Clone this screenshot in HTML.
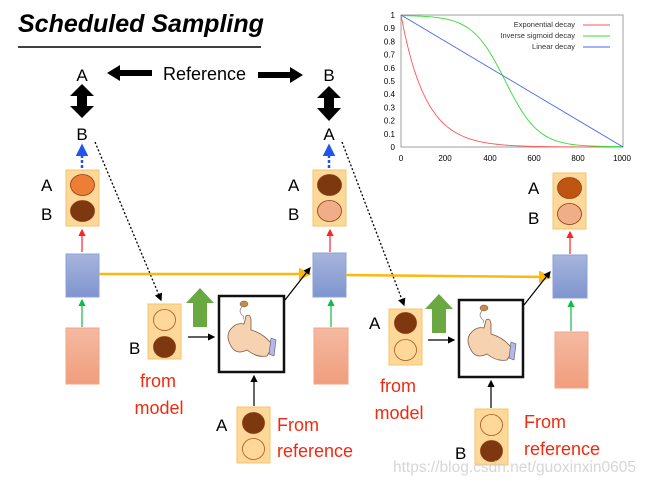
<!DOCTYPE html>
<html><head><meta charset="utf-8"><style>
body{margin:0;background:#fff;width:651px;height:481px;overflow:hidden}
svg{display:block}
text{font-family:"Liberation Sans",sans-serif}
</style></head><body>
<svg id="s" width="651" height="481" viewBox="0 0 651 481" xmlns="http://www.w3.org/2000/svg">
<defs>
<linearGradient id="bl" x1="0" y1="0" x2="0" y2="1"><stop offset="0" stop-color="#a7b5dc"/><stop offset="1" stop-color="#7f95cf"/></linearGradient>
<linearGradient id="pk" x1="0" y1="0" x2="0" y2="1"><stop offset="0" stop-color="#f4baa2"/><stop offset="1" stop-color="#f19d7c"/></linearGradient>
<marker id="ab" markerWidth="6" markerHeight="6" refX="5" refY="3" orient="auto"><path d="M0,0 L6,3 L0,6z" fill="#000"/></marker>
<marker id="ar" markerWidth="6" markerHeight="6" refX="5" refY="3" orient="auto"><path d="M0,0 L6,3 L0,6z" fill="#f22"/></marker>
<marker id="ag" markerWidth="6" markerHeight="6" refX="5" refY="3" orient="auto"><path d="M0,0 L6,3 L0,6z" fill="#1b4"/></marker>
<marker id="abl" markerWidth="5" markerHeight="5" refX="4" refY="2.5" orient="auto"><path d="M0,0 L5,2.5 L0,5z" fill="#2255ee"/></marker>
<marker id="ay" markerWidth="5" markerHeight="5" refX="4" refY="2.5" orient="auto"><path d="M0,0 L5,2.5 L0,5z" fill="#fbb80d"/></marker>
</defs>
<text x="18" y="32" font-size="25" font-weight="bold" font-style="italic">Scheduled Sampling</text>
<line x1="18" y1="47" x2="261" y2="47" stroke="#000" stroke-width="1.5"/>

<rect x="401" y="15" width="222" height="132" fill="#fff" stroke="#888" stroke-width="0.8"/>
<g font-size="8" fill="#000" text-anchor="end" id="yt"></g>
<g font-size="8" fill="#000" text-anchor="middle">
<text x="401" y="161">0</text><text x="445" y="161">200</text><text x="490" y="161">400</text><text x="534" y="161">600</text><text x="578" y="161">800</text><text x="622" y="161">1000</text></g>
<g font-size="7.5" text-anchor="end" fill="#333">
<text x="575" y="27">Exponential decay</text><text x="575" y="38">Inverse sigmoid decay</text><text x="575" y="49">Linear decay</text></g>
<line x1="583" y1="25" x2="610" y2="25" stroke="#f55"/><line x1="583" y1="36" x2="610" y2="36" stroke="#3d3"/><line x1="583" y1="47" x2="610" y2="47" stroke="#46e"/>
<path id="pe" fill="none" stroke="#f55" stroke-width="0.9"/>
<path id="ps" fill="none" stroke="#3d3" stroke-width="0.9"/>
<line x1="401" y1="15" x2="623" y2="147" stroke="#46e" stroke-width="0.9"/>

<text x="82" y="81" font-size="17" text-anchor="middle">A</text>
<text x="82" y="140" font-size="17" text-anchor="middle">B</text>
<text x="329" y="81" font-size="17" text-anchor="middle">B</text>
<text x="329" y="140" font-size="17" text-anchor="middle">A</text>
<path d="M82,84 L94,96 L87,96 L87,106 L94,106 L82,118 L70,106 L77,106 L77,96 L70,96z"/>
<path d="M329,86 L341,98 L334,98 L334,108 L341,108 L329,121 L317,108 L324,108 L324,98 L317,98z"/>
<path d="M107,73 L120,65 L120,70 L152,70 L152,76 L120,76 L120,81z"/>
<path d="M303,75 L290,67 L290,72 L258,72 L258,78 L290,78 L290,83z"/>
<text x="163" y="80" font-size="18">Reference</text>

<line x1="82" y1="168" x2="82" y2="146" stroke="#2255ee" stroke-width="2.5" stroke-dasharray="3,2" marker-end="url(#abl)"/>
<line x1="329" y1="168" x2="329" y2="146" stroke="#2255ee" stroke-width="2.5" stroke-dasharray="3,2" marker-end="url(#abl)"/>
<line x1="95" y1="142" x2="161" y2="300" stroke="#000" stroke-width="1.3" stroke-dasharray="2,2" marker-end="url(#ab)"/>
<line x1="342" y1="142" x2="404" y2="305" stroke="#000" stroke-width="1.3" stroke-dasharray="2,2" marker-end="url(#ab)"/>

<g stroke="#f5c46a" stroke-width="1" fill="#fdd899">
<rect x="66" y="170" width="33" height="56"/><rect x="313" y="170" width="33" height="56"/><rect x="553" y="173" width="33" height="56"/>
<rect x="148" y="304" width="33" height="55"/><rect x="237" y="407" width="33" height="56"/>
<rect x="389" y="309" width="33" height="56"/><rect x="475" y="409" width="33" height="56"/></g>
<g stroke="#8a3a10" stroke-width="0.8">
<ellipse cx="82.5" cy="185" rx="12" ry="10.5" fill="#ec7f35"/><ellipse cx="82.5" cy="211" rx="12" ry="10.5" fill="#7e3810"/>
<ellipse cx="329.5" cy="185" rx="12" ry="10.5" fill="#7e3810"/><ellipse cx="329.5" cy="211" rx="12" ry="10.5" fill="#f0ae88"/>
<ellipse cx="569.5" cy="188" rx="12" ry="10.5" fill="#c05512"/><ellipse cx="569.5" cy="214" rx="12" ry="10.5" fill="#f0ae88"/>
<ellipse cx="164.5" cy="320" rx="11" ry="10.5" fill="none" stroke="#b05020"/><ellipse cx="164.5" cy="347" rx="11" ry="10.5" fill="#7e3810"/>
<ellipse cx="253.5" cy="423" rx="11" ry="10.5" fill="#7e3810"/><ellipse cx="253.5" cy="449" rx="11" ry="10.5" fill="none" stroke="#b05020"/>
<ellipse cx="405.5" cy="323" rx="11" ry="10.5" fill="#7e3810"/><ellipse cx="405.5" cy="350" rx="11" ry="10.5" fill="none" stroke="#b05020"/>
<ellipse cx="491.5" cy="425" rx="11" ry="10.5" fill="none" stroke="#b05020"/><ellipse cx="491.5" cy="451" rx="11" ry="10.5" fill="#7e3810"/></g>
<g font-size="17">
<text x="41" y="191">A</text><text x="41" y="220">B</text>
<text x="288" y="191">A</text><text x="288" y="220">B</text>
<text x="528" y="194">A</text><text x="528" y="224">B</text>
<text x="129" y="354">B</text><text x="216" y="431">A</text>
<text x="369" y="329">A</text><text x="455" y="459">B</text></g>

<g fill="url(#bl)" stroke="#8aa0d8"><rect x="66" y="254" width="33" height="43"/><rect x="313" y="253" width="33" height="44"/><rect x="553" y="255" width="34" height="43"/></g>
<g fill="url(#pk)" stroke="#f3a585"><rect x="66" y="328" width="33" height="56"/><rect x="314" y="328" width="34" height="56"/><rect x="555" y="332" width="33" height="56"/></g>
<line x1="82" y1="252" x2="82" y2="230" stroke="#f22" stroke-width="1.2" marker-end="url(#ar)"/>
<line x1="330" y1="252" x2="330" y2="230" stroke="#f22" stroke-width="1.2" marker-end="url(#ar)"/>
<line x1="570" y1="254" x2="570" y2="232" stroke="#f22" stroke-width="1.2" marker-end="url(#ar)"/>
<line x1="82" y1="327" x2="82" y2="300" stroke="#1b4" stroke-width="1.2" marker-end="url(#ag)"/>
<line x1="331" y1="327" x2="331" y2="300" stroke="#1b4" stroke-width="1.2" marker-end="url(#ag)"/>
<line x1="571" y1="331" x2="571" y2="301" stroke="#1b4" stroke-width="1.2" marker-end="url(#ag)"/>
<line x1="99" y1="274" x2="309" y2="274" stroke="#fbb80d" stroke-width="2.5" marker-end="url(#ay)"/>
<line x1="346" y1="275" x2="549" y2="277" stroke="#fbb80d" stroke-width="2.5" marker-end="url(#ay)"/>

<path d="M200,288 L214,303 L207,303 L207,327 L193,327 L193,303 L186,303z" fill="#6aa842"/>
<path d="M439,294 L453,309 L446,309 L446,333 L432,333 L432,309 L425,309z" fill="#6aa842"/>
<g fill="#fff" stroke="#111" stroke-width="2.5"><rect x="219" y="296" width="65" height="76"/><rect x="459" y="300" width="64" height="77"/></g>
<g id="hand">
<path d="M230,330 q6,-8 14,-6 l2,-8 q4,-3 5,4 l0,10 q14,4 22,16 l-6,10 q-10,2 -20,-6 q-12,6 -17,-6 q-4,-8 0,-14z" fill="#f7d2b0" stroke="#7a5a45" stroke-width="0.8"/>
<path d="M271,338 l5,2 l-2,16 l-5,-2z" fill="#b7b7e8" stroke="#556" stroke-width="0.6"/>
<ellipse cx="244" cy="304" rx="4" ry="3" fill="#c98a4b" stroke="#654" stroke-width="0.5"/>
<path d="M242,307 q-4,4 0,8 q3,2 1,4" fill="none" stroke="#777" stroke-width="0.6"/>
</g>
<use href="#hand" x="240" y="4"/>
<line x1="188" y1="337" x2="214" y2="337" stroke="#000" stroke-width="1.2" marker-end="url(#ab)"/>
<line x1="428" y1="340" x2="454" y2="340" stroke="#000" stroke-width="1.2" marker-end="url(#ab)"/>
<line x1="285" y1="300" x2="310" y2="268" stroke="#000" stroke-width="1.2" marker-end="url(#ab)"/>
<line x1="524" y1="305" x2="550" y2="272" stroke="#000" stroke-width="1.2" marker-end="url(#ab)"/>
<line x1="254" y1="406" x2="254" y2="376" stroke="#000" stroke-width="1.2" marker-end="url(#ab)"/>
<line x1="491" y1="408" x2="491" y2="381" stroke="#000" stroke-width="1.2" marker-end="url(#ab)"/>

<g font-size="18" fill="#f02a10" text-anchor="middle">
<text x="158" y="387">from</text><text x="159" y="414">model</text>
<text x="398" y="392">from</text><text x="399" y="419">model</text></g>
<g font-size="18" fill="#f02a10">
<text x="277" y="431">From</text><text x="277" y="457">reference</text>
<text x="524" y="428">From</text><text x="524" y="455">reference</text></g>
<text x="393" y="472" font-size="15.5" fill="#ccc" opacity="0.8">https://blog.csdn.net/guoxinxin0605</text>
</svg>
<script>
var X=v=>401+v*0.222,Y=v=>147-v*132;
var e="",s="";
for(var i=0;i<=1000;i+=10){var a=Math.exp(-i*0.009),b=1/(1+Math.exp((i-470)/75));e+=(i?"L":"M")+X(i)+","+Y(a);s+=(i?"L":"M")+X(i)+","+Y(b*0.995+0.002);}
document.getElementById("pe").setAttribute("d",e);document.getElementById("ps").setAttribute("d",s);
var g=document.getElementById("yt");
for(var k=0;k<=10;k++){var t=document.createElementNS("http://www.w3.org/2000/svg","text");t.setAttribute("x",395);t.setAttribute("y",Y(k/10)+3);t.textContent=k==10?"1":k==0?"0":"0."+k;g.appendChild(t);}
</script>
</body></html>
